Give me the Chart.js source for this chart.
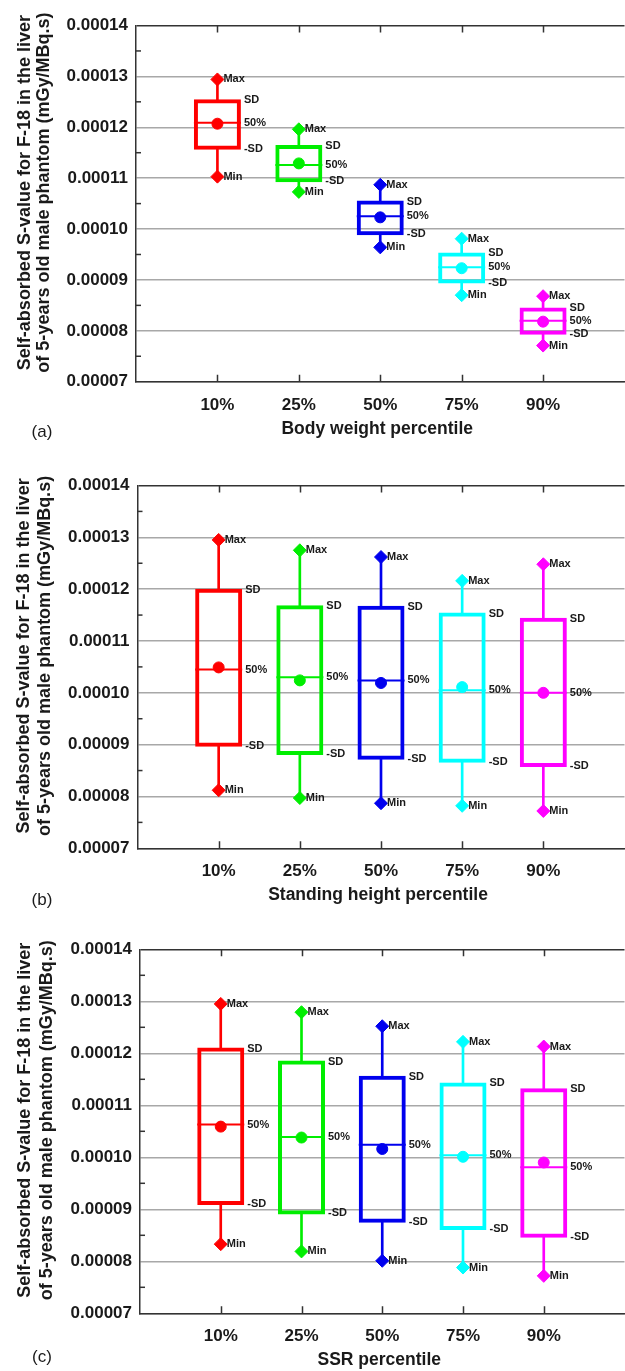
<!DOCTYPE html>
<html>
<head>
<meta charset="utf-8">
<script src="https://cdn.jsdelivr.net/npm/chart.js@4.4.1/dist/chart.umd.min.js"></script>
<style>
html,body{margin:0;padding:0;background:#fff;overflow:hidden;width:625px;height:1371px;}
.p{position:absolute;left:0;}
canvas{display:block;}
</style>
</head>
<body>
<div class="p" style="top:0px"><canvas id="ca" width="650" height="460"></canvas></div>
<div class="p" style="top:460px"><canvas id="cb" width="650" height="455"></canvas></div>
<div class="p" style="top:915px"><canvas id="cc" width="650" height="456"></canvas></div>
<script>
// ---------- data ----------
const categories = ['10%', '25%', '50%', '75%', '90%'];
const categoryPositions = [1, 2, 3, 4, 5];
const colors = ['#ff0000', '#00ee00', '#0000ee', '#00ffff', '#ff00ff'];
const yTickValues = [0.00007, 0.00008, 0.00009, 0.00010, 0.00011, 0.00012, 0.00013, 0.00014];
const yTickLabels = ['0.00007', '0.00008', '0.00009', '0.00010', '0.00011', '0.00012', '0.00013', '0.00014'];
const yMinorTicks = [0.000075, 0.000085, 0.000095, 0.000105, 0.000115, 0.000125, 0.000135];
const yTitleLines = ['Self-absorbed S-value for F-18 in the liver', 'of 5-years old male phantom (mGy/MBq.s)'];

// (a) Body weight percentile
const aMax  = [0.0001294, 0.0001196, 0.0001087, 0.0000981, 0.0000868];
const aSdHi = [0.0001253, 0.0001163, 0.0001054, 0.0000952, 0.0000844];
const aMed  = [0.0001209, 0.0001126, 0.0001025, 0.0000925, 0.0000820];
const aMean = [0.0001207, 0.0001129, 0.0001023, 0.0000923, 0.0000818];
const aSdLo = [0.0001158, 0.0001094, 0.0000990, 0.0000895, 0.0000794];
const aMin  = [0.0001103, 0.0001073, 0.0000964, 0.0000870, 0.0000771];

// (b) Standing height percentile
const bMax  = [0.0001295, 0.0001275, 0.0001262, 0.0001216, 0.0001248];
const bSdHi = [0.0001199, 0.0001167, 0.0001166, 0.0001153, 0.0001143];
const bMed  = [0.0001045, 0.0001030, 0.0001024, 0.0001005, 0.0001000];
const bMean = [0.0001049, 0.0001024, 0.0001019, 0.0001011, 0.0001000];
const bSdLo = [0.0000898, 0.0000882, 0.0000873, 0.0000867, 0.0000859];
const bMin  = [0.0000812, 0.0000797, 0.0000787, 0.0000782, 0.0000772];

// (c) SSR percentile
const cMax  = [0.0001295, 0.0001279, 0.0001252, 0.0001222, 0.0001213];
const cSdHi = [0.0001209, 0.0001184, 0.0001155, 0.0001142, 0.0001131];
const cMed  = [0.0001063, 0.0001039, 0.0001024, 0.0001004, 0.0000981];
const cMean = [0.0001059, 0.0001038, 0.0001016, 0.0001001, 0.0000990];
const cSdLo = [0.0000910, 0.0000892, 0.0000876, 0.0000862, 0.0000847];
const cMin  = [0.0000833, 0.0000819, 0.0000801, 0.0000788, 0.0000772];

// ---------- drawing ----------
const FONT = "'Liberation Sans', Arial, Helvetica, sans-serif";

function makePanel(id, d, lay) {
  const pts = arr => categoryPositions.map((x, i) => ({x: x, y: arr[i]}));
  const rng = (lo, hi) => categoryPositions.map((x, i) => ({x: x, y: [lo[i], hi[i]]}));

  const deco = {
    id: 'deco' + id,
    afterDatasetsDraw(chart) {
      const ctx = chart.ctx, xs = chart.scales.x, ys = chart.scales.y, ca = chart.chartArea;
      ctx.save();
      ctx.strokeStyle = '#333';
      ctx.lineWidth = 1.5;
      // inward category ticks (bottom and top)
      categoryPositions.forEach(v => {
        const px = Math.round(xs.getPixelForValue(v)) + 0.5;
        ctx.beginPath();
        ctx.moveTo(px, ca.bottom); ctx.lineTo(px, ca.bottom - 7);
        ctx.moveTo(px, ca.top); ctx.lineTo(px, ca.top + 7);
        ctx.stroke();
      });
      // inward minor ticks on left axis
      yMinorTicks.forEach(v => {
        const py = ys.getPixelForValue(v);
        ctx.beginPath();
        ctx.moveTo(ca.left, py); ctx.lineTo(ca.left + 5, py);
        ctx.stroke();
      });
      // annotations
      ctx.fillStyle = '#1a1a1a';
      ctx.font = 'bold 11px ' + FONT;
      ctx.textBaseline = 'middle';
      ctx.textAlign = 'left';
      categoryPositions.forEach((v, i) => {
        const cx = xs.getPixelForValue(v);
        const bx = cx + lay.half + 3;
        ctx.fillText('Max', cx + 6, ys.getPixelForValue(d.max[i]));
        ctx.fillText('SD', bx, ys.getPixelForValue(d.sdHi[i]));
        ctx.fillText('50%', bx, ys.getPixelForValue(d.med[i]));
        ctx.fillText('-SD', bx, ys.getPixelForValue(d.sdLo[i]));
        ctx.fillText('Min', cx + 6, ys.getPixelForValue(d.min[i]));
      });
      // y title
      ctx.fillStyle = '#1a1a1a';
      ctx.font = 'bold 18px ' + FONT;
      ctx.textAlign = 'center';
      const yc = (ca.top + ca.bottom) / 2 - 11;
      [lay.t1x, lay.t2x].forEach((tx, k) => {
        ctx.save();
        ctx.translate(tx, yc);
        ctx.rotate(-Math.PI / 2);
        ctx.fillText(yTitleLines[k], 0, 0);
        ctx.restore();
      });
      // x title
      ctx.font = 'bold 17.5px ' + FONT;
      ctx.fillText(lay.xTitle, xs.getPixelForValue(3) - 3, lay.xTitleY);
      // panel letter
      ctx.font = '17px ' + FONT;
      ctx.fillText(lay.letter, 42, lay.letterY);
      ctx.restore();
    }
  };

  return new Chart(document.getElementById(id), {
    type: 'bar',
    data: {
      datasets: [
        { type: 'scatter', data: pts(d.max), order: 0, pointStyle: 'rectRot', pointRadius: 6.5,
          backgroundColor: colors, borderColor: colors, pointBorderWidth: 1 },
        { type: 'scatter', data: pts(d.min), order: 0, pointStyle: 'rectRot', pointRadius: 6.5,
          backgroundColor: colors, borderColor: colors, pointBorderWidth: 1 },
        { type: 'scatter', data: pts(d.mean), order: 1, pointStyle: 'circle', pointRadius: 5.5,
          backgroundColor: colors, borderColor: colors, pointBorderWidth: 1 },
        { type: 'scatter', data: pts(d.med), order: 2, pointStyle: 'line', pointRadius: lay.half,
          backgroundColor: colors, borderColor: colors, pointBorderWidth: 2 },
        { type: 'bar', data: rng(d.sdHi, d.max), order: 3, barThickness: 2, grouped: false,
          backgroundColor: colors, borderWidth: 0 },
        { type: 'bar', data: rng(d.min, d.sdLo), order: 3, barThickness: 2, grouped: false,
          backgroundColor: colors, borderWidth: 0 },
        { type: 'bar', data: rng(d.sdLo, d.sdHi), order: 4, barThickness: lay.half * 2 - 2, grouped: false,
          inflateAmount: 1, backgroundColor: 'rgba(0,0,0,0)', borderColor: colors, borderWidth: 2,
          borderSkipped: false }
      ]
    },
    options: {
      responsive: false,
      animation: false,
      events: [],
      layout: { padding: { top: lay.top, left: 0, right: lay.right, bottom: 0 } },
      plugins: { legend: { display: false }, tooltip: { enabled: false } },
      scales: {
        x: {
          type: 'linear', min: 0, max: 6, offset: false,
          afterBuildTicks: s => { s.ticks = categoryPositions.map(v => ({ value: v })); },
          afterFit: s => { s.height = lay.xh; },
          grid: { display: false, drawTicks: false, offset: false },
          border: { display: true, color: '#333', width: 1.5 },
          ticks: { padding: 13, color: '#1a1a1a', font: { family: FONT, size: 17, weight: 'bold' },
                   maxRotation: 0, autoSkip: false,
                   callback: (v, i) => categories[i] }
        },
        y: {
          type: 'linear', min: 0.00007, max: 0.00014,
          afterBuildTicks: s => { s.ticks = yTickValues.map(v => ({ value: v })); },
          afterFit: s => { s.width = lay.left; },
          grid: { drawTicks: false, lineWidth: 1.5,
                  color: c => (c.index === yTickValues.length - 1 ? '#333' : '#a8a8a8') },
          border: { display: true, color: '#333', width: 1.5 },
          ticks: { padding: 8, color: '#1a1a1a', font: { family: FONT, size: 17, weight: 'bold' },
                   autoSkip: false, callback: (v, i) => yTickLabels[i] }
        }
      }
    },
    plugins: [deco]
  });
}

makePanel('ca', { max: aMax, sdHi: aSdHi, med: aMed, mean: aMean, sdLo: aSdLo, min: aMin },
  { top: 17.3, xh: 460 - 381.7, left: 136, right: 650 - 632.2, half: 23.5,
    t1x: 25, t2x: 44, xTitle: 'Body weight percentile', xTitleY: 429, letter: '(a)', letterY: 432 });
makePanel('cb', { max: bMax, sdHi: bSdHi, med: bMed, mean: bMean, sdLo: bSdLo, min: bMin },
  { top: 25, xh: 455 - 388.3, left: 137.5, right: 650 - 635, half: 23.5,
    t1x: 24, t2x: 45, xTitle: 'Standing height percentile', xTitleY: 435, letter: '(b)', letterY: 440 });
makePanel('cc', { max: cMax, sdHi: cSdHi, med: cMed, mean: cMean, sdLo: cSdLo, min: cMin },
  { top: 34.3, xh: 456 - 398.3, left: 140, right: 650 - 636.8, half: 23.5,
    t1x: 25, t2x: 47, xTitle: 'SSR percentile', xTitleY: 445, letter: '(c)', letterY: 442 });
</script>
</body>
</html>
